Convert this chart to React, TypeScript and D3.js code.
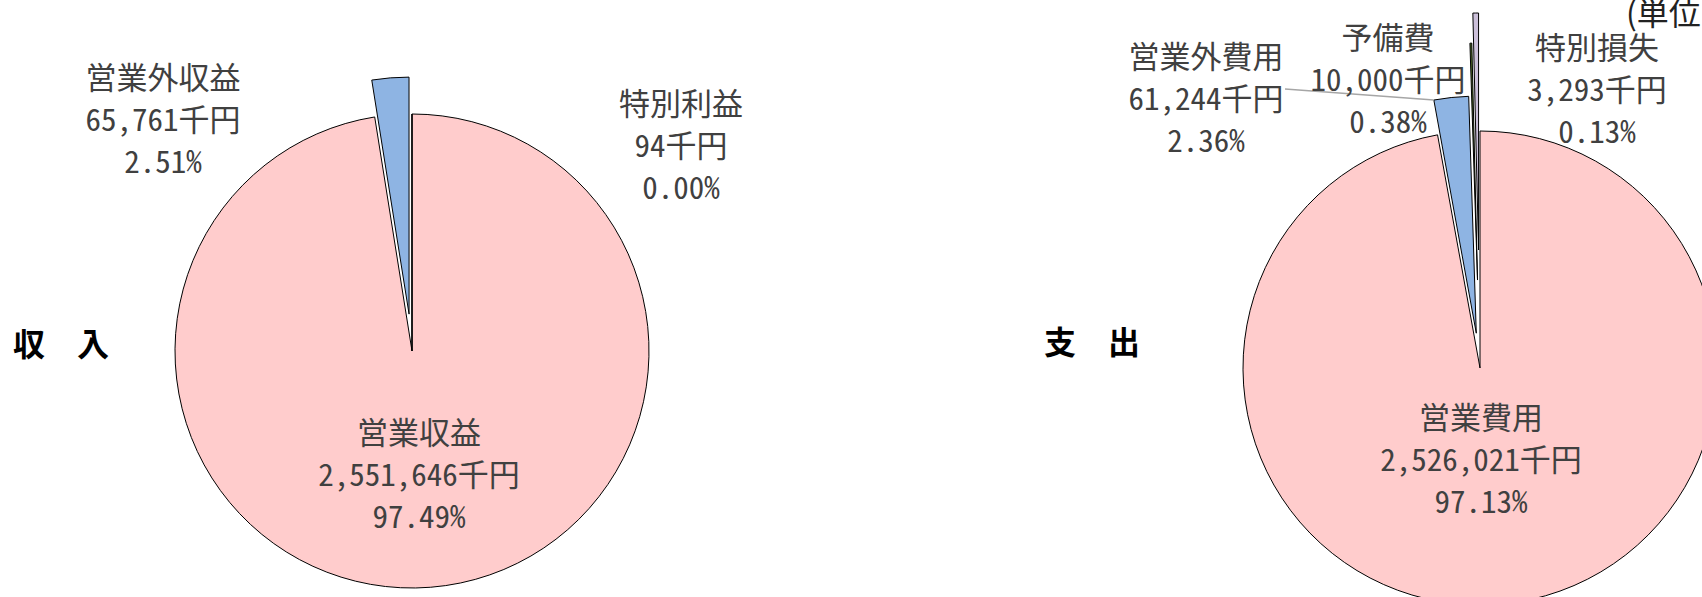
import React from 'react';
import * as d3 from 'd3';

// ---------- data ----------
const incomeCategories = ['営業収益', '営業外収益', '特別利益'];
const incomeValues = [2551646, 65761, 94];
const incomePercents = ['97.49%', '2.51%', '0.00%'];

const expenseCategories = ['営業費用', '営業外費用', '特別損失', '予備費'];
const expenseValues = [2526021, 61244, 3293, 10000];
const expensePercents = ['97.13%', '2.36%', '0.13%', '0.38%'];

const incomeTitle = '収　入';
const expenseTitle = '支　出';
const unitLabel = '(単位：千円)';
const unitSuffix = '千円';

// ---------- styles / layout ----------
const W = 1702;
const H = 597;
const R = 237;
const FONT = "'Noto Sans CJK JP', 'Noto Sans', sans-serif";
const LABEL_COLOR = '#404040';
const LINE_GAP = 42;

const fills: Record<string, string> = {
  営業収益: '#FFCCCC',
  営業外収益: '#8EB4E3',
  特別利益: '#CCC0DA',
  営業費用: '#FFCCCC',
  営業外費用: '#8EB4E3',
  特別損失: '#4F6A28',
  予備費: '#CCC0DA',
};

const explode: Record<string, number> = {
  営業収益: 0,
  営業外収益: 37,
  特別利益: 0,
  営業費用: 0,
  営業外費用: 35,
  特別損失: 88,
  予備費: 118,
};

// label anchor: centre x and first baseline
const labelPos: Record<string, [number, number]> = {
  営業収益: [419, 444],
  営業外収益: [163, 89],
  特別利益: [681, 115],
  営業費用: [1481, 429],
  営業外費用: [1206, 68],
  特別損失: [1597, 59],
  予備費: [1388, 49],
};

const leaderFrom: Record<string, [number, number]> = {
  営業外費用: [1285, 89],
};

type PieProps = {
  cx: number;
  cy: number;
  categories: string[];
  values: number[];
  percents: string[];
};

const fmt = d3.format(',');

function Pie({ cx, cy, categories, values, percents }: PieProps) {
  const pie = d3
    .pie<number>()
    .sort(null)
    .value((d) => d)
    .startAngle(0)
    .endAngle(2 * Math.PI);
  const arcs = pie(values);
  const arc = d3.arc<d3.PieArcDatum<number>>().innerRadius(0).outerRadius(R);

  const slices = arcs.map((a, i) => {
    const name = categories[i];
    const mid = (a.startAngle + a.endAngle) / 2;
    const e = explode[name] ?? 0;
    const dx = e * Math.sin(mid);
    const dy = -e * Math.cos(mid);
    return { a, name, dx, dy };
  });

  return (
    <g>
      <g transform={`translate(${cx},${cy})`}>
        {slices.map((s) => (
          <path
            key={s.name}
            d={arc(s.a) || ''}
            transform={`translate(${s.dx},${s.dy})`}
            fill={fills[s.name]}
            stroke="#000"
            strokeWidth={1}
            strokeLinejoin="miter"
          />
        ))}
      </g>
      {slices.map((s) => {
        const from = leaderFrom[s.name];
        if (!from) return null;
        const ex = cx + s.dx + R * Math.sin(s.a.startAngle);
        const ey = cy + s.dy - R * Math.cos(s.a.startAngle);
        return (
          <line
            key={s.name + '-leader'}
            x1={from[0]}
            y1={from[1]}
            x2={ex}
            y2={ey}
            stroke="#A6A6A6"
            strokeWidth={1.5}
          />
        );
      })}
      {slices.map((s, i) => {
        const [lx, ly] = labelPos[s.name];
        const lines = [s.name, fmt(values[i]) + unitSuffix, percents[i]];
        return (
          <text
            key={s.name + '-label'}
            x={lx}
            y={ly}
            textAnchor="middle"
            fontFamily={FONT}
            fontSize={31}
            fill={LABEL_COLOR}
            style={{ fontFeatureSettings: "'hwid'" }}
          >
            {lines.map((t, k) => (
              <tspan key={k} x={lx} y={ly + k * LINE_GAP}>
                {t}
              </tspan>
            ))}
          </text>
        );
      })}
    </g>
  );
}

export default function App() {
  return (
    <div style={{ position: 'absolute', left: 0, top: 0 }}>
      <svg width={W} height={H} style={{ display: 'block', background: '#fff' }}>
        <rect x={0} y={0} width={W} height={H} fill="#fff" />
        <Pie
          cx={412}
          cy={351}
          categories={incomeCategories}
          values={incomeValues}
          percents={incomePercents}
        />
        <Pie
          cx={1480}
          cy={368}
          categories={expenseCategories}
          values={expenseValues}
          percents={expensePercents}
        />
        <text x={13} y={356} fontFamily={FONT} fontWeight={700} fontSize={32} fill="#000">
          {incomeTitle}
        </text>
        <text x={1044} y={354} fontFamily={FONT} fontWeight={700} fontSize={32} fill="#000">
          {expenseTitle}
        </text>
        <text x={1626} y={25} fontFamily={FONT} fontSize={32} fill="#222">
          {unitLabel}
        </text>
      </svg>
    </div>
  );
}
